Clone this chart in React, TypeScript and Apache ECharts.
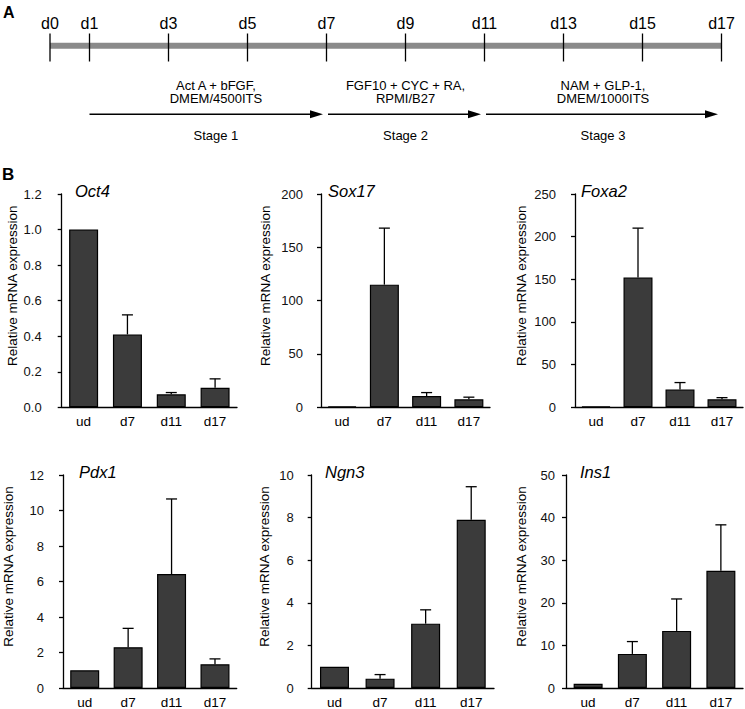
import React, { useEffect, useRef } from "react";
import * as echarts from "echarts";

const FONT = "'Liberation Sans', Arial, Helvetica, sans-serif";

// ---- Panel A: timeline data ----
const timelineDays = [0, 1, 3, 5, 7, 9, 11, 13, 15, 17];
const stageStart = [1, 7, 11];
const stageEnd = [7, 11, 17];
const stageTextDay = [4.2, 9, 14];
const stageAgents = ["Act A + bFGF,", "FGF10 + CYC + RA,", "NAM + GLP-1,"];
const stageMedia = ["DMEM/4500ITS", "RPMI/B27", "DMEM/1000ITS"];
const stageNames = ["Stage 1", "Stage 2", "Stage 3"];

// ---- Panel B: expression data ----
const categories = ["ud", "d7", "d11", "d17"];
const genes = ["Oct4", "Sox17", "Foxa2", "Pdx1", "Ngn3", "Ins1"];
const oct4Mean = [1.0, 0.41, 0.073, 0.11];
const oct4Upper = [1.0, 0.52, 0.083, 0.16];
const sox17Mean = [1, 115, 10.6, 7.5];
const sox17Upper = [1, 168, 13.8, 9.5];
const foxa2Mean = [1, 152, 21, 9.4];
const foxa2Upper = [1, 210, 29, 11.3];
const pdx1Mean = [1, 2.3, 6.42, 1.34];
const pdx1Upper = [1, 3.36, 10.65, 1.64];
const ngn3Mean = [1, 0.44, 3.02, 7.9];
const ngn3Upper = [1, 0.63, 3.67, 9.45];
const ins1Mean = [1, 8.0, 13.4, 27.5];
const ins1Upper = [1, 10.9, 20.9, 38.3];
const yMax = [1.2, 200, 250, 12, 10, 50];
const yInterval = [0.2, 50, 50, 2, 2, 10];

const means = [oct4Mean, sox17Mean, foxa2Mean, pdx1Mean, ngn3Mean, ins1Mean];
const uppers = [oct4Upper, sox17Upper, foxa2Upper, pdx1Upper, ngn3Upper, ins1Upper];

// layout per panel (pixels)
const panelLayout = [
  { left: 61.7, top: 194, width: 175.3, height: 213.3, nameGap: 40, labelMargin: 21, titleLeft: 75, titleTop: 182 },
  { left: 321, top: 194, width: 169, height: 213.3, nameGap: 49, labelMargin: 19, titleLeft: 328, titleTop: 182 },
  { left: 575, top: 194, width: 168, height: 213.3, nameGap: 47, labelMargin: 20, titleLeft: 581, titleTop: 182 },
  { left: 59.3, top: 475, width: 177.4, height: 214.3, nameGap: 48, labelMargin: 20, titleLeft: 79, titleTop: 463 },
  { left: 311.7, top: 475, width: 182.3, height: 214.3, nameGap: 40, labelMargin: 19, titleLeft: 325, titleTop: 463 },
  { left: 566, top: 475, width: 177, height: 214.3, nameGap: 38, labelMargin: 12, titleLeft: 580, titleTop: 463 },
];

function buildOption(): any {
  const grids: any[] = [{ left: 50, top: 0, width: 671.5, height: 150 }];
  const xAxes: any[] = [{ type: "value", gridIndex: 0, min: 0, max: 17, show: false }];
  const yAxes: any[] = [{ type: "value", gridIndex: 0, min: 0, max: 1, show: false }];
  const series: any[] = [];
  const titles: any[] = [
    { text: "A", left: 3, top: 4, padding: 0, textStyle: { fontFamily: FONT, fontWeight: "bold", fontSize: 16, color: "#000" } },
    { text: "B", left: 2, top: 166, padding: 0, textStyle: { fontFamily: FONT, fontWeight: "bold", fontSize: 17, color: "#000" } },
  ];

  // gray timeline bar
  series.push({
    type: "custom",
    xAxisIndex: 0,
    yAxisIndex: 0,
    z: 1,
    data: [[timelineDays[0], timelineDays[timelineDays.length - 1]]],
    renderItem: (params: any, api: any) => {
      const a = api.coord([api.value(0), 0]);
      const b = api.coord([api.value(1), 0]);
      return { type: "rect", shape: { x: a[0], y: 42.8, width: b[0] - a[0], height: 6 }, style: { fill: "#8a8a8a" } };
    },
  });
  // day ticks + labels
  series.push({
    type: "custom",
    xAxisIndex: 0,
    yAxisIndex: 0,
    z: 2,
    data: timelineDays.map((d) => [d]),
    renderItem: (params: any, api: any) => {
      const d = api.value(0);
      const p = api.coord([d, 0]);
      return {
        type: "group",
        children: [
          { type: "line", shape: { x1: p[0], y1: 33.5, x2: p[0], y2: 61.5 }, style: { stroke: "#000", lineWidth: 1.3 } },
          {
            type: "text",
            x: p[0],
            y: 23.3,
            style: { text: "d" + d, align: "center", verticalAlign: "middle", fontSize: 16, fontFamily: FONT, fill: "#000" },
          },
        ],
      };
    },
  });
  // stage arrows + texts
  series.push({
    type: "custom",
    xAxisIndex: 0,
    yAxisIndex: 0,
    z: 2,
    data: stageStart.map((s, i) => [s, stageEnd[i], stageTextDay[i], i]),
    renderItem: (params: any, api: any) => {
      const i = api.value(3);
      const s = api.coord([api.value(0), 0])[0] + (i === 0 ? 0 : 1.5);
      const e = api.coord([api.value(1), 0])[0] - 3.5;
      const c = api.coord([api.value(2), 0])[0];
      const y = 114.3;
      const ts = { align: "center", verticalAlign: "middle", fontSize: 13, fontFamily: FONT, fill: "#000" };
      return {
        type: "group",
        children: [
          { type: "line", shape: { x1: s, y1: y, x2: e - 8, y2: y }, style: { stroke: "#000", lineWidth: 1.5 } },
          { type: "polygon", shape: { points: [[e, y], [e - 13, y - 4], [e - 13, y + 4]] }, style: { fill: "#000" } },
          { type: "text", x: c, y: 85, style: { ...ts, text: stageAgents[i] } },
          { type: "text", x: c, y: 98.5, style: { ...ts, text: stageMedia[i] } },
          { type: "text", x: c, y: 135, style: { ...ts, text: stageNames[i] } },
        ],
      };
    },
  });

  panelLayout.forEach((L, k) => {
    const gi = k + 1;
    grids.push({ left: L.left, top: L.top, width: L.width, height: L.height });
    xAxes.push({
      type: "category",
      gridIndex: gi,
      data: categories,
      axisTick: { show: false },
      axisLine: { lineStyle: { color: "#000", width: 1.3 } },
      axisLabel: { fontFamily: FONT, fontSize: 13.5, color: "#000", margin: 7 },
    });
    yAxes.push({
      type: "value",
      gridIndex: gi,
      min: 0,
      max: yMax[k],
      interval: yInterval[k],
      splitLine: { show: false },
      axisLine: { show: true, lineStyle: { color: "#000", width: 1.3 } },
      axisTick: { show: true, length: 4, lineStyle: { color: "#000", width: 1.3 } },
      axisLabel: {
        fontFamily: FONT,
        fontSize: 13,
        color: "#111",
        margin: L.labelMargin - 1,
        formatter: k === 0 ? (v: number) => v.toFixed(1) : undefined,
      },
      name: "Relative mRNA expression",
      nameLocation: "middle",
      nameGap: L.nameGap,
      nameTextStyle: { fontFamily: FONT, fontSize: 13.5, color: "#000", padding: [0, 0, 0, 30] },
    });
    titles.push({
      text: genes[k],
      left: L.titleLeft,
      top: L.titleTop,
      padding: 0,
      textStyle: { fontFamily: FONT, fontStyle: "italic", fontWeight: "normal", fontSize: 16.5, color: "#000" },
    });
    series.push({
      type: "bar",
      xAxisIndex: gi,
      yAxisIndex: gi,
      data: means[k],
      barWidth: 29,
      itemStyle: { color: "#3b3b3b", borderColor: "#000", borderWidth: 1.2 },
      z: 2,
    });
    series.push({
      type: "custom",
      xAxisIndex: gi,
      yAxisIndex: gi,
      z: 3,
      data: means[k].map((m, j) => [j, m, uppers[k][j]]),
      renderItem: (params: any, api: any) => {
        const c = api.value(0);
        const m = api.value(1);
        const u = api.value(2);
        if (!(u > m)) return null;
        const p0 = api.coord([c, m]);
        const p1 = api.coord([c, u]);
        const hw = 5.5;
        return {
          type: "group",
          children: [
            { type: "line", shape: { x1: p0[0], y1: p0[1], x2: p1[0], y2: p1[1] }, style: { stroke: "#000", lineWidth: 1.3 } },
            { type: "line", shape: { x1: p1[0] - hw, y1: p1[1], x2: p1[0] + hw, y2: p1[1] }, style: { stroke: "#000", lineWidth: 1.3 } },
          ],
        };
      },
    });
  });

  return {
    animation: false,
    backgroundColor: "#fff",
    title: titles,
    grid: grids,
    xAxis: xAxes,
    yAxis: yAxes,
    series,
  };
}

export default function App() {
  const ref = useRef<HTMLDivElement>(null);
  useEffect(() => {
    document.body.style.margin = "0";
    if (!ref.current) return;
    const chart = echarts.init(ref.current, undefined, { renderer: "svg" });
    chart.setOption(buildOption());
    return () => chart.dispose();
  }, []);
  return <div ref={ref} style={{ width: 745, height: 709 }} />;
}
